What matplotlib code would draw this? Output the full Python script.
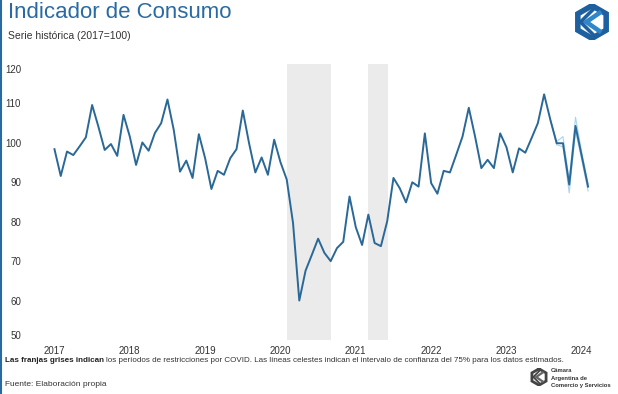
import matplotlib
matplotlib.use("Agg")
import math
import matplotlib.pyplot as plt
from matplotlib.transforms import ScaledTranslation
from matplotlib.lines import Line2D

plt.rcParams['font.family'] = ['Liberation Sans', 'DejaVu Sans']

# ---------------- data (monthly, Jan 2017 .. Feb 2024) ----------------
start_year = 2017
values = [98.4, 91.6, 97.8, 96.9, 99.1, 101.4, 109.6, 104.1, 98.2, 99.7, 96.7, 107.1,   # 2017
          101.6, 94.4, 100.1, 98.0, 102.5, 105.0, 111.0, 103.3, 92.7, 95.5, 91.1, 102.2,  # 2018
          96.1, 88.3, 92.9, 91.9, 96.1, 98.4, 108.2, 99.9, 92.5, 96.3, 91.9, 100.8,       # 2019
          95.1, 90.7, 79.7, 60.0, 67.6, 71.6, 75.7, 72.1, 70.0, 73.3, 74.9, 86.4,         # 2020
          78.6, 74.1, 81.8, 74.6, 73.8, 80.1, 91.1, 88.5, 84.9, 90.0, 88.9, 102.4,        # 2021
          89.8, 87.1, 92.9, 92.5, 97.0, 101.6, 108.9, 101.6, 93.6, 95.7, 93.6, 102.4,     # 2022
          98.9, 92.5, 98.6, 97.5, 101.2, 105.0, 112.3, 105.8, 99.9, 99.9, 89.4, 104.3,    # 2023
          96.6, 88.9]                                                                    # 2024

# 75% confidence interval for estimated data (last months)
ci_start = 79
ci_upper = [105.8, 100.3, 101.6, 90.5, 106.5, 97.6, 89.6]
ci_lower = [105.8, 99.5, 99.0, 87.3, 103.0, 95.6, 87.8]

# COVID restriction periods (month index from Jan 2017)
covid_bands = [(37.1, 44.1), (50.0, 53.2)]

years = ['2017', '2018', '2019', '2020', '2021', '2022', '2023', '2024']
yticks = [50, 60, 70, 80, 90, 100, 110, 120]

# ---------------- figure ----------------
W, H = 618, 394
fig = plt.figure(figsize=(W / 100, H / 100), dpi=100)
fig.patch.set_facecolor('white')

ax = fig.add_axes([35 / W, 1 - 340 / H, (600 - 35) / W, (340 - 64) / H])
months = list(range(len(values)))

for a, b in covid_bands:
    ax.axvspan(a, b, color='#ebebeb', lw=0, zorder=0)

ci_x = list(range(ci_start, ci_start + len(ci_upper)))
ax.plot(ci_x, ci_upper, color='#a9d3ee', lw=0.8, zorder=2)
ax.plot(ci_x, ci_lower, color='#a9d3ee', lw=0.8, zorder=2)
ax.plot(months, values, color='#2a6897', lw=1.4, zorder=3)

ax.set_xlim(-3.1, 86.9)
ax.set_ylim(50, 120)
ax.set_xticks([12 * i for i in range(len(years))])
ax.set_xticklabels(years)
ax.set_yticks(yticks)
ax.set_yticklabels([str(v) for v in yticks])
ax.tick_params(axis='both', length=0, labelsize=7, labelcolor='#333333')
ax.tick_params(axis='y', pad=10)
ax.tick_params(axis='x', pad=4)
for s in ax.spines.values():
    s.set_visible(False)
ax.set_facecolor('none')

# nudge extreme y labels inward as in the reference
labels = ax.get_yticklabels()
labels[0].set_transform(labels[0].get_transform() + ScaledTranslation(0, 5 / 100, fig.dpi_scale_trans))
labels[-1].set_transform(labels[-1].get_transform() + ScaledTranslation(0, -5 / 100, fig.dpi_scale_trans))

# ---------------- texts ----------------
def fy(py):
    return 1 - py / H

fig.text(8 / W, fy(13), 'Indicador de Consumo', fontsize=16, color='#2a6aa3', va='center', ha='left')
fig.text(8 / W, fy(36), 'Serie histórica (2017=100)', fontsize=7.5, color='#333333', va='center', ha='left')

t1 = fig.text(5 / W, fy(361), 'Las franjas grises indican', fontsize=5.8, fontweight='bold',
              color='#222222', va='center', ha='left')
fig.canvas.draw()
bb = t1.get_window_extent()
fig.text(bb.x1 / W + 2 / W, fy(361),
         'los períodos de restricciones por COVID. Las líneas celestes indican el intervalo de '
         'confianza del 75% para los datos estimados.',
         fontsize=5.8, color='#333333', va='center', ha='left')
fig.text(5 / W, fy(384), 'Fuente: Elaboración propia', fontsize=6, color='#333333', va='center', ha='left')

# left blue border
fig.add_artist(Line2D([1 / W, 1 / W], [0, 1], color='#2a6aa3', lw=1.5, transform=fig.transFigure))

# ---------------- logos (decorative) ----------------
def logo(x0, y0, size, color1='#1d5f9f', color2='#2f86c8'):
    lax = fig.add_axes([x0 / W, 1 - (y0 + size) / H, size / W, size / H])
    lax.set_xlim(-1.1, 1.1)
    lax.set_ylim(-1.1, 1.1)
    lax.axis('off')
    hexpts = [(math.cos(math.radians(90 + 60 * i)), math.sin(math.radians(90 + 60 * i))) for i in range(6)]
    hexpts.append(hexpts[0])
    xs, ys = zip(*hexpts)
    lax.plot(xs, ys, color=color1, lw=size / 9, solid_joinstyle='miter')
    lax.plot([0.45, -0.35, 0.45], [0.55, 0.0, -0.55], color=color2, lw=size / 11, solid_joinstyle='miter')
    lax.plot([0.05, -0.7, 0.05], [0.75, 0.0, -0.75], color=color1, lw=size / 14, solid_joinstyle='miter')
    return lax

logo(574, 4, 36)
logo(530, 368, 18, color1='#444444', color2='#666666')
for i, line in enumerate(['Cámara', 'Argentina de', 'Comercio y Servicios']):
    fig.text(551 / W, fy(371 + 7.5 * i), line, fontsize=4.2, fontweight='bold', color='#333333',
             va='center', ha='left')

fig.savefig('out.png', dpi=100)
